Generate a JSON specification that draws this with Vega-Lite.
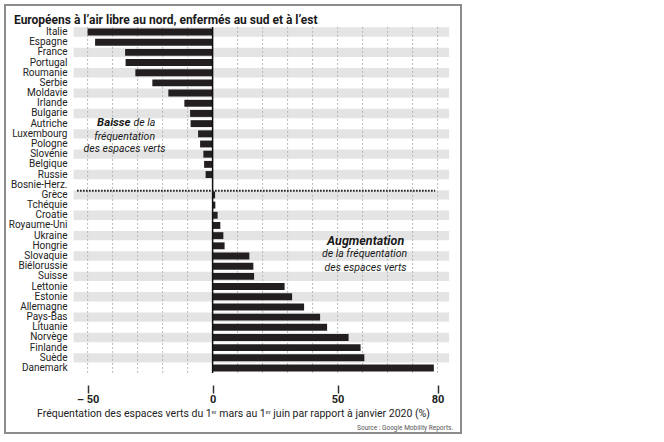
{
  "$schema": "https://vega.github.io/schema/vega-lite/v6.json",
  "width": 456,
  "height": 428,
  "padding": 5,
  "background": "white",
  "title": {"text": "Européens à l’air libre au nord, enfermés au sud et à l’est", "anchor": "start", "frame": "group", "offset": -22, "dx": 9, "font": "Roboto", "fontSize": 12, "fontWeight": "bold", "color": "#1a1a1a"},
  "config": {"view": {"stroke": "#8c8c8c", "strokeWidth": 2}, "font": "Roboto"},
  "datasets": {
    "pays": [
      {"pays": "Italie", "valeur": -50},
      {"pays": "Espagne", "valeur": -47.0},
      {"pays": "France", "valeur": -35.0},
      {"pays": "Portugal", "valeur": -34.8},
      {"pays": "Roumanie", "valeur": -30.9},
      {"pays": "Serbie", "valeur": -24.1},
      {"pays": "Moldavie", "valeur": -17.7},
      {"pays": "Irlande", "valeur": -11.3},
      {"pays": "Bulgarie", "valeur": -9.0},
      {"pays": "Autriche", "valeur": -8.8},
      {"pays": "Luxembourg", "valeur": -5.8},
      {"pays": "Pologne", "valeur": -5.0},
      {"pays": "Slovénie", "valeur": -3.7},
      {"pays": "Belgique", "valeur": -3.4},
      {"pays": "Russie", "valeur": -2.8},
      {"pays": "Bosnie-Herz.", "valeur": 0},
      {"pays": "Grèce", "valeur": 1.0},
      {"pays": "Tchéquie", "valeur": 1.1},
      {"pays": "Croatie", "valeur": 2.0},
      {"pays": "Royaume-Uni", "valeur": 3.1},
      {"pays": "Ukraine", "valeur": 4.3},
      {"pays": "Hongrie", "valeur": 4.8},
      {"pays": "Slovaquie", "valeur": 14.7},
      {"pays": "Biélorussie", "valeur": 16.3},
      {"pays": "Suisse", "valeur": 16.6},
      {"pays": "Lettonie", "valeur": 28.8},
      {"pays": "Estonie", "valeur": 31.8},
      {"pays": "Allemagne", "valeur": 36.6},
      {"pays": "Pays-Bas", "valeur": 43.0},
      {"pays": "Lituanie", "valeur": 45.8},
      {"pays": "Norvège", "valeur": 54.4},
      {"pays": "Finlande", "valeur": 59.2},
      {"pays": "Suède", "valeur": 60.7},
      {"pays": "Danemark", "valeur": 88.5}
    ],
    "grille": [
      {"v": -50}, {"v": -40}, {"v": -30}, {"v": -20}, {"v": -10},
      {"v": 10}, {"v": 20}, {"v": 30}, {"v": 40}, {"v": 50},
      {"v": 60}, {"v": 70}, {"v": 80}, {"v": 90}
    ],
    "un": [{}]
  },
  "layer": [
    {
      "data": {"name": "pays"},
      "transform": [
        {"window": [{"op": "row_number", "as": "rang"}]},
        {"filter": "datum.rang % 2 == 1"}
      ],
      "mark": {"type": "bar", "color": "#e4e4e4", "height": {"band": 0.92}},
      "encoding": {
        "y": {
          "field": "pays", "type": "nominal",
          "scale": {
            "domain": ["Italie", "Espagne", "France", "Portugal", "Roumanie", "Serbie", "Moldavie", "Irlande", "Bulgarie", "Autriche", "Luxembourg", "Pologne", "Slovénie", "Belgique", "Russie", "Bosnie-Herz.", "Grèce", "Tchéquie", "Croatie", "Royaume-Uni", "Ukraine", "Hongrie", "Slovaquie", "Biélorussie", "Suisse", "Lettonie", "Estonie", "Allemagne", "Pays-Bas", "Lituanie", "Norvège", "Finlande", "Suède", "Danemark"],
            "range": [21.9, 368.1],
            "paddingInner": 0, "paddingOuter": 0
          },
          "axis": {"title": null, "domain": false, "ticks": false, "grid": false, "offset": -62, "labelPadding": 0, "labelFont": "Roboto", "labelFontSize": 10, "labelColor": "#222"}
        },
        "x": {
          "datum": -55.6, "type": "quantitative",
          "scale": {"domain": [-83.04, 99.36], "nice": false, "zero": false},
          "axis": {
            "values": [-50, 0, 50, 90],
            "labelExpr": "datum.value == 90 ? '80' : (datum.value < 0 ? '– ' + (-datum.value) : datum.label)",
            "domain": false, "grid": false, "offset": -48, "tickSize": 8, "tickWidth": 1.5, "tickColor": "#333",
            "labelFlush": false, "labelFont": "Roboto", "labelFontSize": 11, "labelFontWeight": "bold", "labelColor": "#222", "labelPadding": 0,
            "title": "Fréquentation des espaces verts du 1ᵉʳ mars au 1ᵉʳ juin par rapport à janvier 2020 (%)",
            "titleFont": "Roboto", "titleFontSize": 10.5, "titleFontWeight": "normal", "titleColor": "#222", "titlePadding": 4
          }
        },
        "x2": {"datum": 94.6}
      }
    },
    {
      "data": {"name": "grille"},
      "mark": {"type": "rule", "color": "#b8b8b8", "strokeWidth": 1, "strokeDash": [2, 2]},
      "encoding": {
        "x": {"field": "v", "type": "quantitative"},
        "y": {"datum": "Italie", "type": "nominal", "bandPosition": 0},
        "y2": {"datum": "Danemark", "bandPosition": 1}
      }
    },
    {
      "data": {"name": "pays"},
      "mark": {"type": "bar", "color": "#231f20", "height": {"band": 0.68}},
      "encoding": {
        "y": {"field": "pays", "type": "nominal"},
        "x": {"field": "valeur", "type": "quantitative"}
      }
    },
    {
      "data": {"name": "un"},
      "mark": {"type": "rule", "color": "#111", "strokeWidth": 1.5},
      "encoding": {
        "x": {"datum": 0, "type": "quantitative"},
        "y": {"datum": "Italie", "type": "nominal", "bandPosition": 0},
        "y2": {"datum": "Danemark", "bandPosition": 1}
      }
    },
    {
      "data": {"name": "un"},
      "mark": {"type": "rule", "color": "#111", "strokeWidth": 2, "strokeDash": [1.5, 1.5], "yOffset": 1},
      "encoding": {
        "x": {"datum": -54.2, "type": "quantitative"},
        "x2": {"datum": 89},
        "y": {"datum": "Grèce", "type": "nominal", "bandPosition": 0}
      }
    },
    {
      "data": {"name": "un"},
      "mark": {"type": "text", "text": "Baisse", "align": "right", "baseline": "middle", "font": "Roboto", "fontStyle": "italic", "fontWeight": "bold", "fontSize": 11.5, "dx": -2, "dy": -1, "color": "#1a1a1a"},
      "encoding": {"x": {"datum": -32, "type": "quantitative"}, "y": {"datum": "Autriche", "type": "nominal"}}
    },
    {
      "data": {"name": "un"},
      "mark": {"type": "text", "text": "de la", "align": "left", "baseline": "middle", "font": "Roboto", "fontStyle": "italic", "fontSize": 10.5, "dx": 1, "dy": -1, "color": "#1a1a1a"},
      "encoding": {"x": {"datum": -32, "type": "quantitative"}, "y": {"datum": "Autriche", "type": "nominal"}}
    },
    {
      "data": {"name": "un"},
      "mark": {"type": "text", "text": "fréquentation", "align": "center", "baseline": "middle", "font": "Roboto", "fontStyle": "italic", "fontSize": 10.5, "dy": 3, "color": "#1a1a1a"},
      "encoding": {"x": {"datum": -35.2, "type": "quantitative"}, "y": {"datum": "Luxembourg", "type": "nominal"}}
    },
    {
      "data": {"name": "un"},
      "mark": {"type": "text", "text": "des espaces verts", "align": "center", "baseline": "middle", "font": "Roboto", "fontStyle": "italic", "fontSize": 10.5, "dy": 5, "color": "#1a1a1a"},
      "encoding": {"x": {"datum": -35.2, "type": "quantitative"}, "y": {"datum": "Pologne", "type": "nominal"}}
    },
    {
      "data": {"name": "un"},
      "mark": {"type": "text", "text": "Augmentation", "align": "center", "baseline": "middle", "font": "Roboto", "fontStyle": "italic", "fontWeight": "bold", "fontSize": 12.5, "dy": -5, "color": "#1a1a1a"},
      "encoding": {"x": {"datum": 61.2, "type": "quantitative"}, "y": {"datum": "Hongrie", "type": "nominal"}}
    },
    {
      "data": {"name": "un"},
      "mark": {"type": "text", "text": "de la fréquentation", "align": "center", "baseline": "middle", "font": "Roboto", "fontStyle": "italic", "fontSize": 10.5, "dy": -2, "color": "#1a1a1a"},
      "encoding": {"x": {"datum": 60.8, "type": "quantitative"}, "y": {"datum": "Slovaquie", "type": "nominal"}}
    },
    {
      "data": {"name": "un"},
      "mark": {"type": "text", "text": "des espaces verts", "align": "center", "baseline": "middle", "font": "Roboto", "fontStyle": "italic", "fontSize": 10.5, "dy": 2, "color": "#1a1a1a"},
      "encoding": {"x": {"datum": 61.2, "type": "quantitative"}, "y": {"datum": "Biélorussie", "type": "nominal"}}
    },
    {
      "data": {"name": "un"},
      "mark": {"type": "text", "text": "Source : Google Mobility Reports.", "align": "right", "baseline": "middle", "font": "Roboto", "fontSize": 6.5, "dy": 60, "color": "#555"},
      "encoding": {"x": {"datum": 96.2, "type": "quantitative"}, "y": {"datum": "Danemark", "type": "nominal"}}
    }
  ]
}
